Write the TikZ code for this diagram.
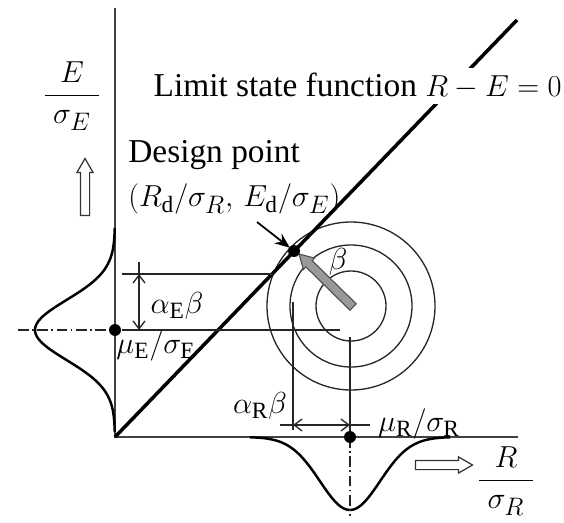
\documentclass[tikz,border=0pt]{standalone}
\usepackage{amsmath}
\usepackage{fontspec}
\setmainfont{Liberation Serif}
\usetikzlibrary{arrows.meta,calc,shapes.arrows}
\tikzset{
  axis/.style={line width=1.1pt,draw=black!75},
  limit/.style={line width=2pt,draw=black},
  guide/.style={line width=0.75pt,draw=black!85},
  centre/.style={line width=0.75pt,draw=black!85,dash pattern=on 6pt off 2pt on 1pt off 2pt},
  pdfcurve/.style={line width=1.4pt,draw=black},
  dimline/.style={{Straight Barb[length=1.6mm,width=2.4mm]}-{Straight Barb[length=1.6mm,width=2.4mm]},%
    line width=0.75pt,draw=black!85},
  dot/.style={circle,fill=black,inner sep=0pt,minimum size=0.24cm},
  hollow/.style={single arrow,draw=black!80,fill=white,line width=0.7pt,inner sep=0.08cm,%
    single arrow head extend=0.07cm,single arrow tip angle=60,minimum height=1.14cm},
  betaarrow/.style={fill=black!40,draw=black!70,line width=0.6pt},
}

\begin{document}
\begin{tikzpicture}[x=0.02cm,y=-0.02cm,font=\fontsize{19}{25}\selectfont]
\useasboundingbox (0,0) rectangle (564,523);
% axes
\coordinate (O) at (115,437);
\coordinate (Etop) at (115,8);
\coordinate (Rend) at (518,437);
\draw[axis] (Etop) -- (O) -- (Rend);
% distributions of E and R
\draw[pdfcurve] plot[domain=228:432,samples=80,variable=\t] ({115-80*exp(-((\t-330)^2/1800))},\t);
\draw[pdfcurve] plot[domain=250:450,samples=80] (\x,{437+73*exp(-((\x-350)^2/1800))});
% centre lines
\coordinate (muE) at (115,330);
\coordinate (muR) at (350,437);
\coordinate (cE) at (18,330);
\coordinate (cR) at (350,516);
\draw[centre] (cE) -- (muE);
\draw[centre] (muR) -- (cR);
% contours round the mean point
\coordinate (C) at (351,306);
\foreach \r in {35,61,84} \draw[guide] (C) circle[radius=\r];
% limit state line
\coordinate (Ltop) at (517,20);
\coordinate (D) at (294,251);
\draw[limit] (O) -- (Ltop);
% guide lines
\coordinate (hA) at (122,274); \coordinate (hB) at (273,274);
\coordinate (hC) at (122,330); \coordinate (hD) at (340,330);
\coordinate (vA) at (293,302); \coordinate (vB) at (293,430);
\coordinate (vC) at (350,337);
\draw[guide] (hA) -- (hB);
\draw[guide] (hC) -- (hD);
\draw[guide] (vA) -- (vB);
\draw[guide] (vC) -- (muR);
% dimensions
\coordinate (aE0) at (139,262); \coordinate (aE1) at (139,274); \coordinate (aE2) at (139,330);
\draw[guide] (aE0) -- (aE1);
\draw[dimline] (aE1) -- (aE2);
\coordinate (aR0) at (280,425); \coordinate (aR1) at (293,425);
\coordinate (aR2) at (350,425); \coordinate (aR3) at (370,425);
\draw[guide] (aR0) -- (aR1);
\draw[dimline] (aR1) -- (aR2);
\draw[guide] (aR2) -- (aR3);
% reliability index arrow
\draw[betaarrow] (356.2,303.8) -- (312.2,260.6) -- (314.6,258.1) -- (299,254)
  -- (303.4,269.5) -- (305.9,267.0) -- (349.9,310.2) -- cycle;
% labels
\node[fill=white,inner sep=3pt,anchor=west] (lsf) at (148,86) {Limit state function $R - E = 0$};
\node[anchor=north west,align=left,inner sep=0pt] (dp) at (128,140)
  {Design point\\$(R_\mathrm{d}/\sigma_R,\, E_\mathrm{d}/\sigma_E)$};
\coordinate (dpt) at (257,222);
\draw[-{Stealth[length=3mm,width=2.4mm]},line width=1pt,shorten >=3pt] (dpt) -- (D);
\node (aEb) at (177,306) {$\alpha_\mathrm{E}\beta$};
\node (muElab) at (156,346) {$\mu_\mathrm{E}/\sigma_\mathrm{E}$};
\node (aRb) at (260,406) {$\alpha_\mathrm{R}\beta$};
\node (muRlab) at (419,424) {$\mu_\mathrm{R}/\sigma_\mathrm{R}$};
\node (blab) at (338,262) {$\beta$};
\node (Elab) at (72,96) {$\dfrac{\mkern9mu E\mkern9mu}{\sigma_E}$};
\node (Rlab) at (506,481) {$\dfrac{\mkern9mu R\mkern9mu}{\sigma_R}$};
% direction arrows
\node[hollow,rotate=90] (upE) at (85,191) {};
\node[hollow] (rightR) at (440,465) {};
% points
\node[dot] (Ddot) at (D) {};
\node[dot] (muEdot) at (muE) {};
\node[dot] (muRdot) at (muR) {};
\end{tikzpicture}
\end{document}
